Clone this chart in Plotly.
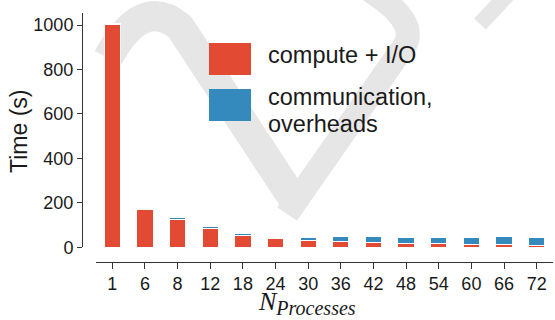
import plotly.graph_objects as go

# Run sizes and timing breakdown (seconds)
n_processes = ["1", "6", "8", "12", "18", "24", "30", "36", "42", "48", "54", "60", "66", "72"]
compute_io = [1002, 171, 127, 86, 55, 40, 30, 25, 21, 16, 15, 12, 12, 10]
comm_overheads = [3, 2, 9, 7, 6, 2, 14, 22, 26, 27, 29, 33, 36, 35]

series_names = ["compute + I/O", "communication,\noverheads"]
series_colors = ["#E24A33", "#348ABD"]

y_ticks = [0, 200, 400, 600, 800, 1000]
y_title = "Time (s)"
x_title = "<i>N</i><sub><span style=\"font-size:20px\"><i>Processes</i></span></sub>"

W, H = 555, 320
SANS = "Liberation Sans, Arial, Helvetica, sans-serif"
SERIF = "Liberation Serif, Times New Roman, serif"
INK = "#1a1a1a"
GRID_INK = "#333333"
MARK_GRAY = "#e6e6e6"


def px(x):
    return x / W


def py(y):
    return 1 - y / H


fig = go.Figure()
for name, vals, col in zip(series_names, [compute_io, comm_overheads], series_colors):
    fig.add_trace(go.Bar(
        x=n_processes, y=vals, name=name.replace("\n", " "),
        marker=dict(color=col, line=dict(color="white", width=1)),
        width=0.5, showlegend=False,
    ))

shapes = []

# light background mark strokes
def stroke(path, width):
    pts = []
    for tok in path.split():
        if "," in tok:
            a, b = tok.split(",")
            pts.append(f"{px(float(a)):.5f},{py(float(b)):.5f}")
        else:
            pts.append(tok)
    return dict(type="path", xref="paper", yref="paper", path=" ".join(pts),
                line=dict(color=MARK_GRAY, width=width), layer="below")

shapes.append(stroke("M 108,58 Q 142,-5 180,27 L 296,203", 30))
shapes.append(stroke("M 366,-12 Q 426,25 400,52 L 287,214", 24))
shapes.append(stroke("M 480,24 L 510,-8", 16))

# legend boxes
legend_rows = [(43, 75), (89, 121)]
for (y0, y1), col in zip(legend_rows, series_colors):
    shapes.append(dict(type="rect", xref="paper", yref="paper",
                       x0=px(209), x1=px(251), y0=py(y1), y1=py(y0),
                       fillcolor=col, line=dict(width=0)))

annotations = []
legend_lines = [(series_names[0], 55), ]
comm_lines = series_names[1].split("\n")
legend_lines += [(comm_lines[0], 97), (comm_lines[1], 124)]
for txt, yc in legend_lines:
    annotations.append(dict(text=txt, xref="paper", yref="paper", x=px(266), y=py(yc),
                            xanchor="left", yanchor="middle", showarrow=False,
                            font=dict(family=SANS, size=23.5, color=INK)))

annotations.append(dict(text=y_title, xref="paper", yref="paper", x=px(19), y=py(132),
                        textangle=-90, xanchor="center", yanchor="middle", showarrow=False,
                        font=dict(family=SANS, size=23, color=INK)))
annotations.append(dict(text=x_title, xref="paper", yref="paper", x=px(256), y=py(303),
                        xanchor="left", yanchor="middle", showarrow=False,
                        font=dict(family=SERIF, size=26, color=INK)))

fig.update_layout(
    template="none",
    width=W, height=H,
    margin=dict(l=0, r=0, t=0, b=0, pad=0),
    paper_bgcolor="white", plot_bgcolor="rgba(0,0,0,0)",
    barmode="stack", bargap=0.5,
    shapes=shapes, annotations=annotations,
    xaxis=dict(
        domain=[px(96), px(553)], anchor="free", position=py(261.7),
        type="category", range=[-0.5, 13.5],
        showline=True, linecolor=GRID_INK, linewidth=1,
        ticks="outside", ticklen=6, tickwidth=1, tickcolor=GRID_INK,
        tickfont=dict(family=SANS, size=18, color=INK),
        showgrid=False, zeroline=False, automargin=False,
    ),
    yaxis=dict(
        domain=[py(247.3), py(13)], anchor="free", position=px(82),
        range=[0, 1054], tickvals=y_ticks,
        showline=True, linecolor=GRID_INK, linewidth=1,
        ticks="outside", ticklen=5, tickwidth=1, tickcolor=GRID_INK,
        tickfont=dict(family=SANS, size=18, color=INK),
        showgrid=False, zeroline=False, automargin=False,
    ),
)

fig.write_html("out.html")
